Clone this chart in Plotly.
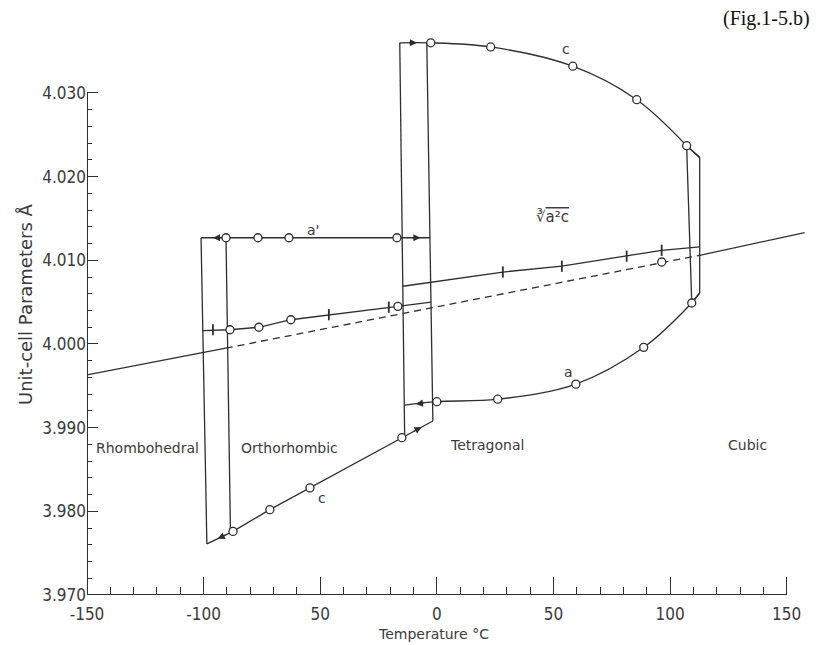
import numpy as np
import plotly.graph_objects as go

LINE = "#2e2e2e"
TEXT = "#3a3a3a"
FONT = "DejaVu Sans Condensed, DejaVu Sans"

# ---------------- axis ticks ----------------
x_tick_vals = [-150, -100, -50, 0, 50, 100, 150]
x_tick_text = ["-150", "-100", "50", "0", "50", "100", "150"]
y_tick_vals = [3.970, 3.980, 3.990, 4.000, 4.010, 4.020, 4.030]
y_tick_text = ["3.970", "3.980", "3.990", "4.000", "4.010", "4.020", "4.030"]
x_minor = [t for t in range(-140, 150, 10) if t % 50 != 0]
y_minor = [round(3.970 + 0.002 * i, 3) for i in range(1, 30) if i % 5 != 0]

# ---------------- data ----------------
# tetragonal c
tet_c_T = [-15.9, -2.6, 23.1, 58.3, 85.7, 107.1]
tet_c_v = [4.0360, 4.0360, 4.0355, 4.0332, 4.0292, 4.0237]
# tetragonal a
tet_a_T = [-13.8, 0.0, 26.1, 59.6, 88.7, 109.3]
tet_a_v = [3.9927, 3.9931, 3.9934, 3.9952, 3.9996, 4.0049]
# tetragonal -> cubic transition loop
cub_loop_T = [107.1, 112.7, 112.7, 109.3, 107.1]
cub_loop_v = [4.0237, 4.0223, 4.0061, 4.0049, 4.0237]
# tetragonal <-> orthorhombic transition verticals
to_left_T = [-15.9, -13.8]
to_left_v = [4.0360, 3.9891]
to_right_T = [-4.3, -1.7]
to_right_v = [4.0360, 3.9908]
# orthorhombic a'
ap_T = [-101.1, -90.4, -76.7, -63.4, -17.1, -3.0]
ap_v = [4.0127, 4.0127, 4.0127, 4.0127, 4.0127, 4.0127]
# orthorhombic c
oc_T = [-98.6, -87.4, -71.6, -54.4, -15.0, -1.7]
oc_v = [3.9761, 3.9776, 3.9802, 3.9828, 3.9888, 3.9908]
# orthorhombic <-> rhombohedral verticals
or_outer_T = [-101.1, -98.6]
or_outer_v = [4.0127, 3.9761]
or_inner_T = [-90.4, -88.5]
or_inner_v = [4.0127, 3.9776]
# cube root (a^2 c) in orthorhombic phase
ocr_T = [-100.3, -88.7, -76.3, -62.6, -16.7, -2.5]
ocr_v = [4.0016, 4.0017, 4.0020, 4.0029, 4.0045, 4.0050]
ocr_bar_T = [-96.0, -46.3, -20.6]
ocr_bar_v = [4.0017, 4.0035, 4.0044]
# cube root in tetragonal phase
tcr_T = [-14.6, 28.3, 53.6, 81.4, 96.4, 112.7]
tcr_v = [4.0069, 4.0086, 4.0093, 4.0105, 4.0112, 4.0116]
# rhombohedral / extrapolated / cubic line
rh_T = [-150, -90.5]
rh_v = [3.9963, 3.9995]
ext_T = [-90.5, 112.7]
ext_v = [3.9995, 4.0106]
cubic_T = [112.7, 157.7]
cubic_v = [4.0106, 4.0133]
ext_pt_T = [96.4]
ext_pt_v = [4.0098]

fig = go.Figure()

def line(T, v, dash="solid", shape="linear", width=1.3):
    fig.add_trace(go.Scatter(x=T, y=v, mode="lines",
                             line=dict(color=LINE, width=width, dash=dash, shape=shape),
                             hoverinfo="skip"))

def circles(T, v):
    fig.add_trace(go.Scatter(x=T, y=v, mode="markers",
                             marker=dict(symbol="circle", size=8, color="white",
                                         line=dict(color=LINE, width=1.3)),
                             hoverinfo="skip"))

def bars(T, v):
    fig.add_trace(go.Scatter(x=T, y=v, mode="markers",
                             marker=dict(symbol="line-ns", size=8,
                                         line=dict(color=LINE, width=1.8)),
                             hoverinfo="skip"))

# lines
line(tet_c_T, tet_c_v, shape="spline")
line([tet_c_T[-1], cub_loop_T[1]], [tet_c_v[-1], cub_loop_v[1]])
line(tet_a_T, tet_a_v, shape="spline")
line([tet_a_T[-1], cub_loop_T[2]], [tet_a_v[-1], cub_loop_v[2]])
line(cub_loop_T, cub_loop_v)
line(to_left_T, to_left_v)
line(to_right_T, to_right_v)
line(ap_T, ap_v)
line(oc_T, oc_v)
line(or_outer_T, or_outer_v)
line(or_inner_T, or_inner_v)
line(ocr_T, ocr_v)
line(tcr_T, tcr_v)
line(rh_T, rh_v)
line(ext_T, ext_v, dash="7px,5px")
line(cubic_T, cubic_v)

# markers
circles(tet_c_T[1:], tet_c_v[1:])
circles(tet_a_T[1:], tet_a_v[1:])
circles(ap_T[1:5], ap_v[1:5])
circles(oc_T[1:5], oc_v[1:5])
circles(ocr_T[1:5], ocr_v[1:5])
bars(ocr_bar_T, ocr_bar_v)
bars(tcr_T[1:5], tcr_v[1:5])
circles(ext_pt_T, ext_pt_v)

# arrows along curves: (curve T, curve v, head T, direction)
arrows = [
    (ap_T, ap_v, -96.0, -1),
    (ap_T, ap_v, -7.0, +1),
    (tet_c_T, tet_c_v, -8.5, +1),
    (tet_a_T, tet_a_v, -9.0, -1),
    (oc_T, oc_v, -6.5, +1),
    (oc_T, oc_v, -94.0, -1),
]
annotations = []
for cT, cv, hT, d in arrows:
    tT = hT - d * 4.0
    hv = float(np.interp(hT, cT, cv))
    tv = float(np.interp(tT, cT, cv))
    annotations.append(dict(x=hT, y=hv, ax=tT, ay=tv, xref="x", yref="y",
                            axref="x", ayref="y", text="", showarrow=True,
                            arrowhead=2, arrowsize=1.1, arrowwidth=1.3,
                            arrowcolor=LINE, standoff=0, startstandoff=0))

def label(T, v, text, size=14, **kw):
    annotations.append(dict(x=T, y=v, xref="x", yref="y", text=text, showarrow=False,
                            xanchor="center", yanchor="middle",
                            font=dict(family="DejaVu Sans", size=size, color=TEXT), **kw))

label(-123.9, 3.9876, "Rhombohedral")
label(-63.0, 3.9876, "Orthorhombic")
label(21.4, 3.9879, "Tetragonal")
label(133.3, 3.9879, "Cubic")
label(55.3, 4.0352, "c")
label(-53.1, 4.0136, "a'")
label(56.6, 3.9967, "a")
label(-49.3, 3.9816, "c")
label(49.7, 4.0152, "∛<span style='text-decoration:overline'>a²c</span>", size=15)

# axis titles and figure tag
annotations.append(dict(x=(433 - 87) / 723, y=(595 - 634) / 565, xref="paper", yref="paper",
                        xanchor="center", yanchor="middle",
                        text="Temperature °C", showarrow=False,
                        font=dict(family="DejaVu Sans", size=14, color=TEXT)))
annotations.append(dict(x=(25 - 87) / 723, y=(595 - 304) / 565, xref="paper", yref="paper",
                        xanchor="center", yanchor="middle",
                        text="Unit-cell Parameters Å", showarrow=False, textangle=-90,
                        font=dict(family="DejaVu Sans", size=18, color=TEXT)))
annotations.append(dict(x=(812 - 87) / 723, y=(595 - 18) / 565, xref="paper", yref="paper",
                        xanchor="right", yanchor="middle", text="(Fig.1-5.b)", showarrow=False,
                        font=dict(family="Liberation Serif", size=20, color="#111111")))

# axis lines (from tick extents)
shapes = [
    dict(type="line", xref="x", yref="y", x0=x_tick_vals[0], x1=x_tick_vals[-1],
         y0=y_tick_vals[0], y1=y_tick_vals[0], line=dict(color=LINE, width=2)),
    dict(type="line", xref="x", yref="y", x0=x_tick_vals[0], x1=x_tick_vals[0],
         y0=y_tick_vals[0], y1=y_tick_vals[-1], line=dict(color=LINE, width=2)),
]

fig.update_layout(
    width=816, height=645,
    margin=dict(l=87, r=6, t=30, b=50),
    plot_bgcolor="white", paper_bgcolor="white",
    showlegend=False,
    annotations=annotations, shapes=shapes,
)
fig.update_xaxes(
    range=[-150, 160], showline=False, showgrid=False, zeroline=False,
    tickmode="array", tickvals=x_tick_vals, ticktext=x_tick_text,
    ticks="inside", ticklen=18, tickwidth=1.4, tickcolor=LINE,
    ticklabelstandoff=7,
    minor=dict(tickmode="array", tickvals=x_minor, ticks="inside", ticklen=8,
               tickwidth=1.2, tickcolor=LINE, showgrid=False),
    tickfont=dict(family=FONT, size=17, color=TEXT),
)
fig.update_yaxes(
    range=[3.970, 3.970 + 565 / 8367], showline=False, showgrid=False, zeroline=False,
    tickmode="array", tickvals=y_tick_vals, ticktext=y_tick_text,
    ticks="inside", ticklen=11, tickwidth=1.4, tickcolor=LINE,
    minor=dict(tickmode="array", tickvals=y_minor, ticks="inside", ticklen=5,
               tickwidth=1.2, tickcolor=LINE, showgrid=False),
    tickfont=dict(family=FONT, size=17, color=TEXT),
)

fig.write_html("out.html")
